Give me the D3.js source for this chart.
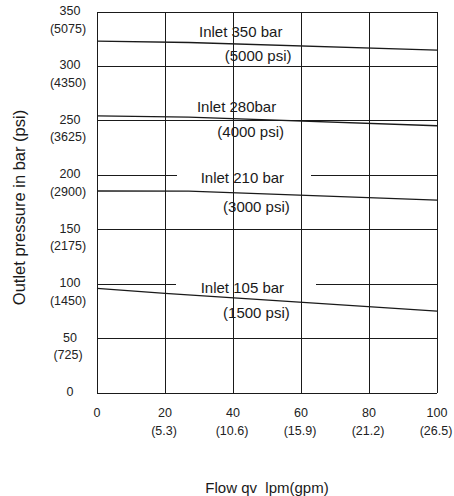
<!DOCTYPE html>
<html><head><meta charset="utf-8">
<script src="https://cdn.jsdelivr.net/npm/d3@7/dist/d3.min.js"></script>
<style>
html,body{margin:0;padding:0;background:#fff;}
text{font-family:"Liberation Sans",Arial,sans-serif;}
</style></head>
<body><svg id="c" width="454" height="496"></svg>
<script>
// ---- data ----
const flowTicks = [0, 20, 40, 60, 80, 100];
const gpmLabels = ["", "(5.3)", "(10.6)", "(15.9)", "(21.2)", "(26.5)"];
const pressureTicks = [0, 50, 100, 150, 200, 250, 300, 350];
const psiLabels = ["", "(725)", "(1450)", "(2175)", "(2900)", "(3625)", "(4350)", "(5075)"];

const inlet350 = [[0, 323.3], [27, 322], [100, 315]];
const inlet280 = [[0, 254.6], [27, 253.5], [100, 245.6]];
const inlet210 = [[0, 185.7], [27, 185.5], [100, 177.4]];
const inlet105 = [[0, 96.4], [20, 91.8], [100, 75.5]];

const seriesNames = ["Inlet 350 bar", "Inlet 280bar", "Inlet 210 bar", "Inlet 105 bar"];
const seriesPsi = ["(5000 psi)", "(4000 psi)", "(3000 psi)", "(1500 psi)"];
// label anchors in data units [flow, pressure] for name line and psi line
const nameAnchors = [[30.0, 332], [29.4, 263.7], [30.5, 198.3], [30.5, 97.3]];
const psiAnchors = [[57.2, 310.5], [55.0, 240.7], [56.7, 171.3], [56.7, 74]];
// gaps in broken gridlines (pressure, flow from, flow to)
const gridGaps = [[200, 23.5, 62.9], [100, 23.1, 64.4]];

// ---- chart ----
const svg = d3.select("#c");
const x = d3.scaleLinear().domain([0, 100]).range([97, 437]);
const y = d3.scaleLinear().domain([0, 350]).range([393.3, 12]);
const ink = "#1a1a1a";

// vertical grid
svg.append("g").selectAll("line").data(flowTicks).join("line")
  .attr("x1", d => x(d)).attr("x2", d => x(d))
  .attr("y1", y(0)).attr("y2", y(350))
  .attr("stroke", ink).attr("stroke-width", 1).attr("shape-rendering", "crispEdges");

// horizontal grid (with gaps)
const gh = svg.append("g");
pressureTicks.forEach(p => {
  const gap = gridGaps.find(g => g[0] === p);
  const segs = gap ? [[0, gap[1]], [gap[2], 100]] : [[0, 100]];
  segs.forEach(s => gh.append("line")
    .attr("x1", x(s[0])).attr("x2", x(s[1]))
    .attr("y1", y(p)).attr("y2", y(p))
    .attr("stroke", ink).attr("stroke-width", 1).attr("shape-rendering", "crispEdges"));
});

// curves
const line = d3.line().x(d => x(d[0])).y(d => y(d[1]));
[inlet350, inlet280, inlet210, inlet105].forEach(s => {
  svg.append("path").attr("d", line(s)).attr("fill", "none")
    .attr("stroke", ink).attr("stroke-width", 1.3);
});

// series labels
seriesNames.forEach((n, i) => {
  svg.append("text").attr("x", x(nameAnchors[i][0])).attr("y", y(nameAnchors[i][1]))
    .attr("dominant-baseline", "central").attr("font-size", 15).attr("fill", ink).text(n);
  svg.append("text").attr("x", x(psiAnchors[i][0])).attr("y", y(psiAnchors[i][1]))
    .attr("dominant-baseline", "central").attr("text-anchor", "end")
    .attr("font-size", 15).attr("fill", ink).text(seriesPsi[i]);
});

// y tick labels
const yl = svg.append("g").attr("font-size", 12.5).attr("fill", "#222").attr("text-anchor", "middle");
pressureTicks.forEach((p, i) => {
  yl.append("text").attr("x", 70).attr("y", y(p) - 1).attr("dominant-baseline", "central").text(p);
  if (psiLabels[i]) yl.append("text").attr("x", 68).attr("y", y(p) + 16.5)
    .attr("dominant-baseline", "central").text(psiLabels[i]);
});

// x tick labels
const xl = svg.append("g").attr("font-size", 12.5).attr("fill", "#222").attr("text-anchor", "middle");
flowTicks.forEach((f, i) => {
  xl.append("text").attr("x", x(f)).attr("y", 413).attr("dominant-baseline", "central").text(f);
  if (gpmLabels[i]) xl.append("text").attr("x", x(f) - 1).attr("y", 431)
    .attr("dominant-baseline", "central").text(gpmLabels[i]);
});

// axis titles
svg.append("text").attr("x", 267).attr("y", 487).attr("text-anchor", "middle")
  .attr("dominant-baseline", "central").attr("font-size", 15).attr("fill", ink)
  .attr("xml:space", "preserve").style("white-space", "pre").text("Flow qv  lpm(gpm)");
svg.append("text").attr("transform", "translate(19,207.5) rotate(-90)")
  .attr("text-anchor", "middle").attr("dominant-baseline", "central")
  .attr("font-size", 16.5).attr("fill", ink).text("Outlet pressure in bar (psi)");
</script></body></html>
